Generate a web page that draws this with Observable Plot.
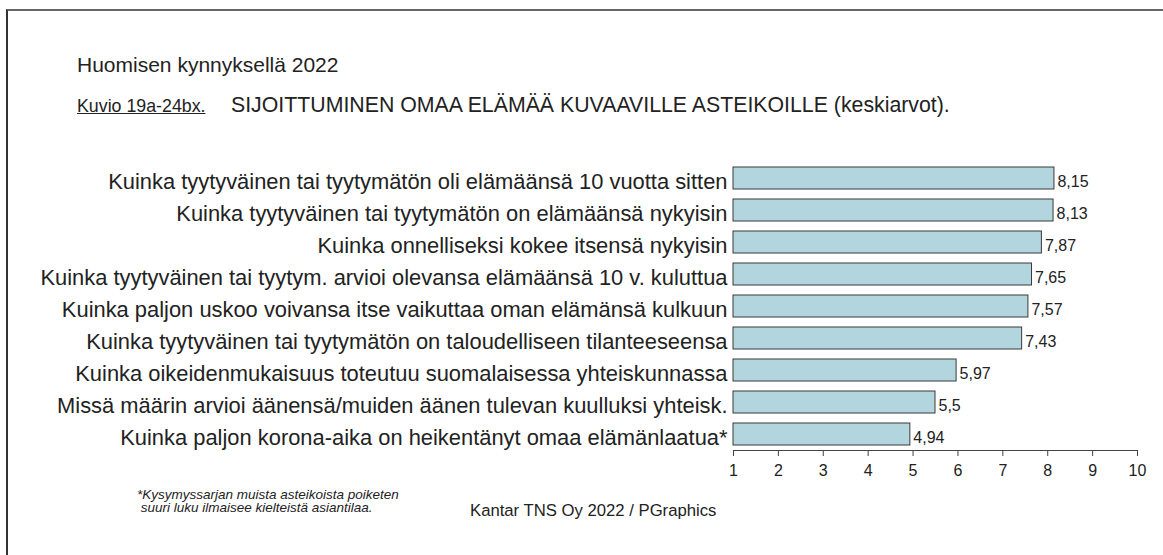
<!DOCTYPE html>
<html>
<head>
<meta charset="utf-8">
<script src="https://cdn.jsdelivr.net/npm/d3@7"></script>
<script src="https://cdn.jsdelivr.net/npm/@observablehq/plot@0.6"></script>
<style>
  html, body { margin: 0; padding: 0; background: #fff; }
  body { width: 1163px; height: 555px; position: relative; overflow: hidden;
         font-family: "Liberation Sans", Arial, Helvetica, sans-serif; color: #222; }
  .frame { position: absolute; left: 6px; top: 9px; right: 0; bottom: 0;
           border-left: 2px solid #333; border-top: 2px solid #666; }
  .t { position: absolute; white-space: nowrap; line-height: 1; }
  #chart { position: absolute; left: 0; top: 0; }
</style>
</head>
<body>
<div class="frame"></div>
<div class="t" id="title" style="left:77px; top:54px; font-size:21px;"></div>
<div class="t" id="kuvio" style="left:77px; top:98px; font-size:17.8px; text-decoration:underline;"></div>
<div class="t" id="subtitle" style="left:231px; top:95px; font-size:21.3px;"></div>
<div id="chart"></div>
<div class="t" id="note" style="left:137px; top:488px; font-size:13.5px; font-style:italic; line-height:13px;"></div>
<div class="t" id="caption" style="left:470px; top:503px; font-size:16.7px;"></div>
<script>
const titleText = "Huomisen kynnyksellä 2022";
const figureText = "Kuvio 19a-24bx.";
const subtitleText = "SIJOITTUMINEN OMAA ELÄMÄÄ KUVAAVILLE ASTEIKOILLE (keskiarvot).";
const noteLines = ["*Kysymyssarjan muista asteikoista poiketen", " suuri luku ilmaisee kielteistä asiantilaa."];
const captionText = "Kantar TNS Oy 2022 / PGraphics";

const categories = [
  "Kuinka tyytyväinen tai tyytymätön oli elämäänsä 10 vuotta sitten",
  "Kuinka tyytyväinen tai tyytymätön on elämäänsä nykyisin",
  "Kuinka onnelliseksi kokee itsensä nykyisin",
  "Kuinka tyytyväinen tai tyytym. arvioi olevansa elämäänsä 10 v. kuluttua",
  "Kuinka paljon uskoo voivansa itse vaikuttaa oman elämänsä kulkuun",
  "Kuinka tyytyväinen tai tyytymätön on taloudelliseen tilanteeseensa",
  "Kuinka oikeidenmukaisuus toteutuu suomalaisessa yhteiskunnassa",
  "Missä määrin arvioi äänensä/muiden äänen tulevan kuulluksi yhteisk.",
  "Kuinka paljon korona-aika on heikentänyt omaa elämänlaatua*"
];
const values = [8.15, 8.13, 7.87, 7.65, 7.57, 7.43, 5.97, 5.5, 4.94];
const valueLabels = ["8,15", "8,13", "7,87", "7,65", "7,57", "7,43", "5,97", "5,5", "4,94"];
const xTicks = [1, 2, 3, 4, 5, 6, 7, 8, 9, 10];
const xDomain = [1, 10];

document.getElementById("title").textContent = titleText;
document.getElementById("kuvio").textContent = figureText;
document.getElementById("subtitle").textContent = subtitleText;
document.getElementById("note").innerHTML = noteLines.map(s => s.replace(/ /g, "&nbsp;")).join("<br>");
document.getElementById("caption").textContent = captionText;

const data = categories.map((c, i) => ({cat: c, value: values[i], label: valueLabels[i]}));

const chart = Plot.plot({
  width: 1163,
  height: 480,
  marginLeft: 733,
  marginRight: 26,
  marginTop: 162,
  marginBottom: 30,
  style: {fontFamily: "'Liberation Sans', Arial, sans-serif", color: "#222", background: "transparent", overflow: "visible"},
  x: {domain: xDomain, label: null},
  y: {domain: categories, label: null, paddingInner: 0.31, paddingOuter: 0.14},
  marks: [
    Plot.barX(data, {y: "cat", x1: xDomain[0], x2: "value", fill: "#b3d5de", stroke: "#3a3a3a", strokeWidth: 1}),
    Plot.text(data, {y: "cat", x: "value", text: "label", textAnchor: "start", dx: 3, dy: 3.5, fontSize: 16, fill: "#222"}),
    Plot.frame({anchor: "bottom", stroke: "#444"}),
    Plot.axisX({ticks: xTicks, tickSize: 6, tickPadding: 8, fontSize: 16, tickFormat: d => String(d), stroke: "#444", fill: "#222"}),
    Plot.axisY({tickSize: 0, tickPadding: 6, dy: 3, fontSize: 21.9, fill: "#222"})
  ]
});
document.getElementById("chart").appendChild(chart);
</script>
</body>
</html>
